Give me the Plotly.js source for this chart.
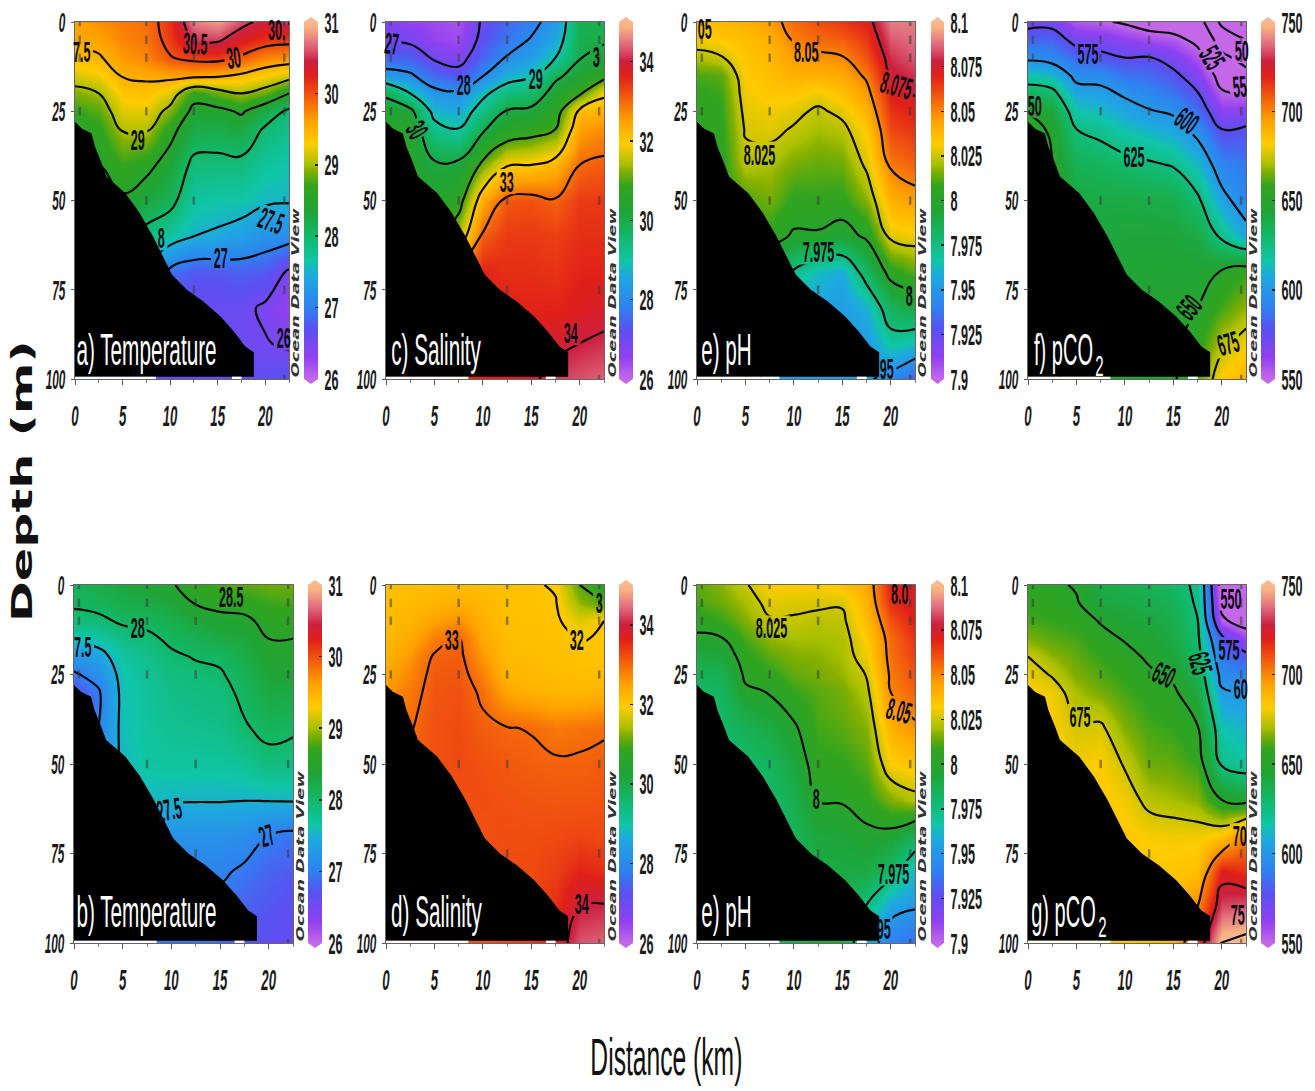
<!DOCTYPE html>
<html><head><meta charset="utf-8">
<script src="https://cdn.plot.ly/plotly-3.0.1.min.js"></script>
<style>html,body{margin:0;padding:0;background:#fff}#plot{width:1315px;height:1091px}</style>
</head><body><div id="plot"></div>
<script>
// ---------- grid ----------
const distanceKm=[0,2.5,5,7.5,10,12.5,15,17.5,20,22.5];
const depthM=[0,5,10,15,20,25,30,40,50,60,70,80,90,100];
// each inner list is one distance column, read from top (0 m) to bottom (100 m)
const tempUpper=[
[29.6,29.57,29.4,29.15,28.9,28.7,28.55,28.5,28.4,28.2,27.9,27.5,27,26.8],
[29.7,29.6,29.47,29.25,29,28.8,28.65,28.5,28.4,28.2,27.9,27.5,27,26.8],
[29.8,29.75,29.65,29.52,29.35,29.2,29.03,28.7,28.45,28.1,27.7,27.3,26.9,26.7],
[29.85,29.82,29.75,29.55,29.4,29.22,29.05,28.6,28.3,27.85,27.4,27,26.7,26.6],
[30.15,30.1,29.98,29.6,29.2,28.9,28.62,28.35,28.12,27.7,26.9,26.58,26.56,26.6],
[30.75,30.5,30.1,29.6,28.65,28.4,28.25,27.9,27.7,27.5,26.75,26.58,26.56,26.6],
[30.85,30.55,30.12,29.55,28.85,28.4,28.2,27.9,27.65,27.45,26.75,26.58,26.56,26.6],
[30.6,30.3,29.95,29.45,29,28.55,28.3,27.9,27.65,27.35,26.8,26.58,26.56,26.6],
[30.4,30.15,29.75,29.3,28.85,28.25,27.95,27.7,27.55,27.2,26.75,26.45,26.52,26.65],
[30.55,30.1,29.7,29.15,28.5,27.92,27.8,27.65,27.53,27.15,26.45,26.25,26.45,26.7]];
const tempLower=[
[28.1,28.05,27.9,27.6,27.25,26.95,26.7,26.6,26.6,26.6,26.6,26.6,26.6,26.6],
[28.2,28.1,27.93,27.65,27.35,27.15,26.95,27,27.2,27.2,27,27,26.9,26.9],
[28.3,28.2,28.05,27.85,27.7,27.62,27.6,27.6,27.55,27.52,27.3,27,26.9,26.9],
[28.35,28.25,28.08,27.93,27.8,27.75,27.72,27.7,27.68,27.55,27.3,27,26.9,26.9],
[28.47,28.33,28.18,28.06,27.95,27.87,27.82,27.78,27.7,27.53,27.2,27.02,26.9,26.9],
[28.65,28.52,28.3,28.15,28.02,27.93,27.87,27.8,27.7,27.52,27.2,27.02,26.9,26.9],
[28.75,28.6,28.4,28.25,28.05,27.97,27.9,27.82,27.7,27.52,27.2,27.05,26.9,26.85],
[28.8,28.63,28.43,28.3,28.2,28.12,28.07,27.97,27.75,27.51,27.15,26.95,26.8,26.75],
[28.85,28.72,28.6,28.5,28.42,28.35,28.28,28.08,27.9,27.52,27,26.82,26.72,26.65],
[28.85,28.75,28.62,28.5,28.42,28.35,28.25,28.05,27.85,27.53,26.92,26.75,26.65,26.6]];
const salUpper=[
[26.7,26.9,27.5,28.3,29.9,30.3,30.5,30.5,30.5,30.5,31,32,33,33.5],
[26.5,26.85,27.45,28.1,29,30.2,30.5,30.5,30.5,31,32,33,33.5,33.5],
[26.4,26.5,26.9,27.55,28.2,28.75,29.25,30.1,30.4,31,32,33,33.5,33.5],
[26.3,26.4,26.7,27.3,28.15,28.6,29.02,30.15,30.7,31.5,33,33.5,33.5,33.5],
[27.1,27.2,27.5,27.97,28.85,29.3,29.9,31.15,32.4,33.1,33.6,33.6,33.6,33.6],
[27.5,27.7,28.05,28.7,29.4,30.05,30.5,31.95,33.15,33.4,33.5,33.6,33.6,33.6],
[27.8,28.05,28.4,28.9,29.55,30.15,30.7,32,33.2,33.4,33.5,33.6,33.8,33.9],
[28.3,28.55,29,29.85,30.3,30.65,31,32.25,33.05,33.35,33.45,33.6,33.85,34.2],
[29.9,29.95,29.98,30.3,30.9,32.15,32.5,33,33.4,33.5,33.6,33.7,34,34.3],
[29.85,29.95,30.15,30.75,31.9,32.3,32.7,33.1,33.4,33.5,33.6,33.8,34.1,34.4]];
const salLower=[
[32.12,32.12,32.15,32.2,32.3,32.45,32.6,32.9,33.1,33.1,33.1,33.1,33.1,33.1],
[32.12,32.15,32.25,32.4,32.6,32.75,32.85,32.97,33.1,33.1,33.1,33.1,33.1,33.1],
[32.12,32.25,32.5,32.8,33.05,33.12,33.15,33.2,33.2,33.2,33.2,33.2,33.2,33.2],
[32.15,32.35,32.68,33.03,33.1,33.15,33.2,33.25,33.25,33.2,33.2,33.2,33.2,33.2],
[32.12,32.2,32.3,32.42,32.6,32.78,32.93,33.08,33.2,33.22,33.2,33.2,33.2,33.2],
[32.1,32.1,32.12,32.14,32.18,32.25,32.45,33.02,33.13,33.2,33.23,33.25,33.25,33.3],
[32.06,32.08,32.1,32.12,32.14,32.18,32.3,32.98,33.08,33.17,33.23,33.25,33.3,33.4],
[31.95,32.03,32.07,32.1,32.12,32.15,32.22,32.85,33.05,33.15,33.25,33.35,33.5,33.7],
[31,31.3,31.75,31.98,32.08,32.12,32.2,32.9,33.05,33.15,33.3,33.6,34,34.3],
[30.7,31,32,32.03,32.08,32.14,32.3,32.95,33.1,33.18,33.25,33.5,34.05,34.4]];
const phUpper=[
[8.036,8.03,8.021,8.01,8.007,8.006,8.005,8.004,8.004,8.004,8.003,8.003,8.003,8.003],
[8.038,8.033,8.024,8.012,8.009,8.007,8.006,8.005,8.005,8.004,8.003,8.003,8.003,8.003],
[8.04,8.036,8.034,8.032,8.03,8.028,8.026,8.022,8.01,8.005,8.002,8.002,8.002,8.002],
[8.045,8.04,8.038,8.036,8.034,8.03,8.028,8.02,8.015,8.005,7.99,7.97,7.96,7.96],
[8.055,8.051,8.045,8.04,8.034,8.028,8.024,8.015,8.006,7.9985,7.973,7.955,7.952,7.952],
[8.06,8.055,8.047,8.04,8.03,8.023,8.02,8.013,8.007,7.9985,7.963,7.955,7.952,7.952],
[8.065,8.057,8.049,8.042,8.036,8.028,8.022,8.014,8.006,7.995,7.958,7.952,7.952,7.952],
[8.07,8.065,8.06,8.052,8.046,8.04,8.034,8.027,8.017,8.002,7.983,7.96,7.952,7.952],
[8.09,8.085,8.08,8.076,8.07,8.066,8.062,8.052,8.04,8.028,8.005,7.985,7.968,7.945],
[8.09,8.088,8.085,8.08,8.076,8.07,8.066,8.057,8.045,8.03,8.012,7.99,7.965,7.93]];
const phLower=[
[8.012,8.01,8.004,7.998,7.99,7.985,7.98,7.98,7.98,7.98,7.98,7.98,7.98,7.98],
[8.017,8.014,8.008,7.999,7.992,7.985,7.982,7.98,7.98,7.98,7.98,7.98,7.98,7.98],
[8.024,8.02,8.016,8.01,8.005,8.002,7.998,7.985,7.98,7.98,7.98,7.98,7.98,7.98],
[8.032,8.028,8.024,8.018,8.012,8.006,8.0005,7.99,7.983,7.98,7.98,7.98,7.98,7.98],
[8.032,8.027,8.024,8.02,8.016,8.013,8.008,7.998,7.992,7.987,7.985,7.985,7.985,7.985],
[8.031,8.027,8.022,8.02,8.017,8.015,8.012,8.01,8.006,8.0005,7.992,7.99,7.99,7.99],
[8.035,8.026,8.023,8.021,8.02,8.018,8.015,8.012,8.007,8.001,7.993,7.99,7.988,7.988],
[8.042,8.04,8.037,8.033,8.03,8.0255,8.022,8.017,8.012,8.006,7.997,7.99,7.974,7.96],
[8.07,8.067,8.06,8.055,8.054,8.052,8.05,8.04,8.032,8.016,7.996,7.98,7.955,7.94],
[8.075,8.072,8.07,8.066,8.063,8.06,8.057,8.048,8.035,8.022,7.985,7.962,7.951,7.935]];
const co2Upper=[
[570,583,597,616,634,649,655,655,655,655,655,655,655,655],
[570,583,594,612,630,643,648,650.5,652,652,652,652,652,652],
[555,570,584,596,606,616,625,636,640,642,643,645,645,645],
[552,568,579,595,604,612,621,633,640,642,643,644,645,645],
[548,563,575,587,598,606,614,630,640,643,644,645,645,645],
[542,558,576,585,593,601,610,627,639,643,645,646,646,646],
[540,555,568,579,587,598,606,624,638,643,645,647,648,648],
[536,546,556,566,576,585,595,612,628,640,645,650,655,662],
[495,515,530,543,552,563,575,592,605,622,651,660,672,683],
[480,500,518,531,550,565,577,588,592,606,658,668,680,690]];
const co2Lower=[
[655,657,660,666,675,680,682,682,682,682,682,682,682,682],
[652,655,658,662,668,674,680,682,682,682,682,682,682,682],
[649,651,656,660,663,666,670,676,680,682,682,682,682,682],
[640,642,649,654,658,661,665,677,682,684,684,684,684,684],
[637,640,644,649,654,657,660,666,674,680,684,683,683,683],
[635,638,642,645,648,652,655,660,664,672,681,684,684,685],
[631,635,638,640,643,647.5,652,658,663,670,680,684,686,688],
[622,623,625.5,628,631,636,641,651,658,667,680,686,700,715],
[540,545,553,578,588,595,602,615,623,650,684,720,733,752],
[530,535,542,560,580,592,600,610,618,645,702,716,735,755]];
// ---------- sea floor and stations ----------
const bottomX=[-0.2,0.7,1.75,2.1,2.8,3.3,5.3,6.8,8.2,9.3,10.2,11.75,13.5,15.3,16.7,17.9,18.8,18.8,-0.2];
const bottomD=[27.4,29.8,31.2,34.9,39.6,43.3,48,53.5,60,66,70.8,75,78.3,82.5,86.7,90.9,92.5,99.4,99.4];
const stationX=[0.5,0.5,0.5,0.5,7.5,7.5,7.5,7.5,7.5,12.5,12.5,12.5,12.5,12.5,12.5,22,22,22,22,22,22,22];
const stationD=[0,5,10,25,0,5,10,25,50,0,5,10,25,50,75,0,5,10,25,50,75,100];
const stripX=[-0.2,8.5,null,16.5,17.5];
const stripD=[99.7,99.7,null,99.7,99.7];
// ---------- ticks ----------
const xTicks=[0,5,10,15,20];
const yTicks=[0,25,50,75,100];
const tempTicks=[26,27,28,29,30,31];
const salTicks=[26,28,30,32,34];
const phTicks=[7.9,7.925,7.95,7.975,8,8.025,8.05,8.075,8.1];
const phTickText=['7.9','7.925','7.95','7.975','8','8.025','8.05','8.075','8.1'];
const co2Ticks=[550,600,650,700,750];
// ---------- contour labels: distance, depth, text, angle ----------
const lblA=[[12.6,6,'30.5',3],[16.7,10,'30',-8],[21.2,2,'30.',0],[0.7,8.3,'7.5',0],[6.6,33,'29',0],[9.1,60.5,'8',0],[20.6,55.5,'27.5',20],[15.3,66,'27',0],[21.9,88.5,'26',0]];
const lblB=[[16.1,3.3,'28.5',0],[6.5,12,'28',0],[0.9,17.2,'7.5',0],[9.8,62.8,'27.5',-10],[19.8,70,'27',-18]];
const lblC=[[0.6,6,'27',5],[8,17.6,'28',0],[15.4,15.8,'29',0],[3.2,30,'30',60],[12.4,44.7,'33',0],[21.7,9.7,'3',0],[19.1,87,'34',0]];
const lblD=[[6.8,15.3,'33',0],[19.7,15.3,'32',0],[22,5,'3',0],[20.2,89,'34',0]];
const lblE=[[0.8,1.8,'05',0],[11.3,8.3,'8.05',0],[6.5,37,'8.025',0],[20.6,17.7,'8.075',15],[12.5,64.4,'7.975',0],[21.9,76.5,'8',0],[19.6,97,'95',0]];
const lblE2=[[21,2.3,'8.0',0],[7.7,12,'8.025',0],[20.8,35,'8.05',15],[12.3,59.5,'8',0],[20.3,80.5,'7.975',0],[19.2,96,'95',0]];
const lblF=[[6.2,8.8,'575',0],[16.4,27.5,'600',35],[10.9,37.8,'625',0],[0.7,23.3,'50',0],[16.6,80,'650',-50],[20.6,90,'675',-15],[19,10,'525',60],[21.8,18,'55',-5],[22,8,'50',0]];
const lblG=[[20.9,3.7,'550',0],[20.7,18,'575',0],[17.8,22,'625',75],[21.9,29,'60',0],[14,25,'650',25],[5.4,36.7,'675',0],[21.8,70,'70',0],[21.6,92,'75',0]];

const W=1315,H=1091;
const scale=[[0,'#c468e8'],[.06,'#9040f0'],[.137,'#5a50f0'],[.2,'#2f80f0'],[.287,'#1ea8e0'],[.33,'#10c6a8'],[.365,'#12be88'],[.4,'#12b868'],[.47,'#1fa436'],[.54,'#32a41e'],[.585,'#88b000'],[.6,'#a8c000'],[.66,'#ffcc00'],[.725,'#ffa000'],[.8,'#f05010'],[.847,'#e02018'],[.89,'#cc2040'],[.94,'#e07080'],[.985,'#f8b080'],[1,'#f8b890']];

const T={min:26,max:31,ticks:tempTicks,text:tempTicks.map(String),c:{start:26.5,end:31,size:.5}};
const S={min:26,max:35,ticks:salTicks,text:salTicks.map(String),c:{start:27,end:35,size:1}};
const P={min:7.9,max:8.1,ticks:phTicks,text:phTickText,c:{start:7.925,end:8.1,size:.025}};
const C={min:550,max:750,ticks:co2Ticks,text:co2Ticks.map(String),c:{start:500,end:750,size:25}};

const panels=[
{z:tempUpper,v:T,l:75,r:289,t:22,b:379,cb:304,odv:295,lab:lblA,name:'a) Temperature',nx:74},
{z:salUpper,v:S,l:386,r:604,t:22,b:379,cb:619,odv:612,lab:lblC,name:'c) Salinity',nx:389},
{z:phUpper,v:P,l:697,r:915,t:22,b:379,cb:931,odv:922,lab:lblE,name:'e) pH',nx:699},
{z:co2Upper,v:C,l:1028,r:1246,t:22,b:379,cb:1261,odv:1253,lab:lblF,name:'f) pCO',nx:1032,sub:1},
{z:tempLower,v:T,l:74,r:293,t:585,b:943,cb:308,odv:300,lab:lblB,name:'b) Temperature',nx:74},
{z:salLower,v:S,l:386,r:604,t:585,b:943,cb:619,odv:612,lab:lblD,name:'d) Salinity',nx:389},
{z:phLower,v:P,l:697,r:915,t:585,b:943,cb:931,odv:922,lab:lblE2,name:'e) pH',nx:699},
{z:co2Lower,v:C,l:1028,r:1246,t:585,b:943,cb:1261,odv:1253,lab:lblG,name:'g) pCO',nx:1029,sub:1}];

const cv=document.createElement('canvas').getContext('2d');
function textW(s,size,fam,bold){cv.font=(bold?'bold ':'')+size+'px "'+fam+'"';return cv.measureText(s).width;}
const transpose=m=>m[0].map((_,r)=>m.map(col=>col[r]));

const traces=[],annotations=[],shapes=[],squeeze=[];
const layout={width:W,height:H,margin:{l:0,r:0,t:0,b:0,autoexpand:false},paper_bgcolor:'#fff',plot_bgcolor:'#fff',showlegend:false,annotations,shapes};
const px=x=>x/W, py=y=>1-y/H;
function addAnn(a,target){annotations.push(a);squeeze.push(target);}
const LF='Liberation Sans';
const LABEL_SIZE=30, LABEL_SQ=.42;

panels.forEach((p,i)=>{
  const n=i===0?'':String(i+1), xa='x'+n, ya='y'+n, z=transpose(p.z), v=p.v, cbw=p.cb===931?13:14;
  layout['xaxis'+n]={domain:[px(p.l),px(p.r)],range:[0,22.5],anchor:ya,tickmode:'array',tickvals:xTicks,ticks:'outside',ticklen:5,tickcolor:'#555',
    minor:{tickmode:'array',tickvals:[2.5,7.5,12.5,17.5,22.5],ticks:'outside',ticklen:3,tickcolor:'#777'},
    showline:true,mirror:true,linecolor:'#666',linewidth:1,showgrid:false,zeroline:false,ticklabelstandoff:5,
    tickfont:{family:LF,size:30,color:'#1a1a1a',style:'italic',weight:700}};
  layout['yaxis'+n]={domain:[py(p.b),py(p.t)],range:[100,0],anchor:xa,tickmode:'array',tickvals:yTicks,ticks:'outside',ticklen:3,tickcolor:'#555',
    showline:true,mirror:true,linecolor:'#666',linewidth:1,showgrid:false,zeroline:false,
    tickfont:{family:LF,size:28,color:'#1a1a1a',style:'italic',weight:700}};
  traces.push({type:'heatmap',xaxis:xa,yaxis:ya,x:distanceKm,y:depthM,z,zmin:v.min,zmax:v.max,zauto:false,zsmooth:'best',colorscale:scale,hoverinfo:'skip',
    colorbar:{x:px(p.cb),xanchor:'left',xpad:0,y:py(p.b),yanchor:'bottom',ypad:0,thickness:cbw,thicknessmode:'pixels',len:p.b-p.t,lenmode:'pixels',outlinewidth:0,
      tickmode:'array',tickvals:v.ticks,ticktext:v.text,ticks:'inside',ticklen:3,tickcolor:'#222',tickwidth:1.5,
      tickfont:{family:LF,size:30,color:'#1a1a1a',weight:700}}});
  traces.push({type:'contour',xaxis:xa,yaxis:ya,x:distanceKm,y:depthM,z,autocontour:false,contours:{coloring:'none',start:v.c.start,end:v.c.end,size:v.c.size},
    line:{color:'#0a0a0a',width:2.2,smoothing:1.3},showscale:false,hoverinfo:'skip'});
  traces.push({type:'scatter',mode:'markers',xaxis:xa,yaxis:ya,x:stationX,y:stationD,marker:{symbol:'line-ns',size:6,line:{color:'rgba(60,60,60,.55)',width:2.5}},hoverinfo:'skip',cliponaxis:true});
  traces.push({type:'scatter',mode:'lines',xaxis:xa,yaxis:ya,x:bottomX,y:bottomD,fill:'toself',fillcolor:'#000',line:{color:'#000',width:0},hoverinfo:'skip',cliponaxis:false});
  traces.push({type:'scatter',mode:'lines',xaxis:xa,yaxis:ya,x:stripX,y:stripD,line:{color:'#fff',width:2.5},hoverinfo:'skip',cliponaxis:false,connectgaps:false});

  // colour-bar end caps
  const c0=p.cb,c1=p.cb+cbw,m=(c0+c1)/2;
  shapes.push({type:'path',xref:'paper',yref:'paper',path:`M${px(c0)},${py(p.t)} L${px(m)},${py(p.t-5)} L${px(c1)},${py(p.t)} Z`,fillcolor:scale[scale.length-1][1],line:{width:0}});
  shapes.push({type:'path',xref:'paper',yref:'paper',path:`M${px(c0)},${py(p.b)} L${px(m)},${py(p.b+5)} L${px(c1)},${py(p.b)} Z`,fillcolor:scale[0][1],line:{width:0}});

  p.lab.forEach(L=>{
    const tw=textW(L[2],LABEL_SIZE,LF,true)*LABEL_SQ;
    addAnn({xref:xa,yref:ya,x:L[0],y:L[1],text:L[2],showarrow:false,textangle:L[3],font:{family:LF,size:LABEL_SIZE,color:'#0c0c14',weight:700},xanchor:'center',yanchor:'middle',borderpad:0},tw);
  });
  const py0=(p.t<100?350:911);
  const nw=textW(p.name,44,LF)*(p.sub?.455:.47);
  addAnn({xref:'paper',yref:'paper',x:px(p.nx),y:py(py0),text:p.name,showarrow:false,font:{family:LF,size:44,color:'#fff'},xanchor:'left',yanchor:'middle',width:Math.ceil(nw)+2,borderpad:0},nw);
  if(p.sub){const sw=textW('2',30,LF)*.5;
    addAnn({xref:'paper',yref:'paper',x:px(p.nx+nw+2),y:py(py0+15),text:'2',showarrow:false,font:{family:LF,size:30,color:'#fff'},xanchor:'left',yanchor:'middle',width:Math.ceil(sw)+2,borderpad:0},sw);}
  const odvTop=p.t+186, odvBot=p.b-2;
  addAnn({xref:'paper',yref:'paper',x:px(p.odv),y:py((odvTop+odvBot)/2),text:'Ocean Data View',showarrow:false,textangle:-90,font:{family:'DejaVu Sans',size:10,color:'#333',style:'italic',weight:700},xanchor:'center',yanchor:'middle',borderpad:0},odvBot-odvTop);
});
addAnn({xref:'paper',yref:'paper',x:px(666),y:py(1057),text:'Distance (km)',showarrow:false,font:{family:LF,size:52,color:'#111'},xanchor:'center',yanchor:'middle',borderpad:0},152);
addAnn({xref:'paper',yref:'paper',x:px(22),y:py(481),text:'Depth (m)',showarrow:false,textangle:-90,font:{family:'DejaVu Sans',size:29,color:'#111',weight:700},xanchor:'center',yanchor:'middle',borderpad:0},282);

Plotly.newPlot('plot',traces,layout,{staticPlot:true,displayModeBar:false}).then(gd=>{
  const NS='http://www.w3.org/2000/svg';
  const fit=(el,w)=>{el.setAttribute('textLength',w);el.setAttribute('lengthAdjust','spacingAndGlyphs');};
  gd.querySelectorAll('.xaxislayer-above text').forEach(t=>fit(t,t.getComputedTextLength()*.44));
  gd.querySelectorAll('.yaxislayer-above text').forEach(t=>fit(t,t.getComputedTextLength()*.42));
  gd.querySelectorAll('.cbaxis text').forEach(t=>fit(t,t.getComputedTextLength()*.42));
  gd.querySelectorAll('.annotation').forEach(a=>{
    const k=+a.getAttribute('data-index'),t=a.querySelector('text');
    if(t&&squeeze[k]) fit(t,squeeze[k]);
  });
  // break the contour lines under their labels
  panels.forEach((p,i)=>{
    const n=i===0?'':String(i+1),sub='.subplot.x'+n+'y'+n,layer=gd.querySelector(sub+' .contourlayer');
    if(!layer) return;
    const w=p.r-p.l,h=p.b-p.t,mask=document.createElementNS(NS,'mask'),id='gap'+i;
    mask.setAttribute('id',id);mask.setAttribute('maskUnits','userSpaceOnUse');
    mask.setAttribute('x',-20);mask.setAttribute('y',-20);mask.setAttribute('width',w+40);mask.setAttribute('height',h+40);
    const rect=(x,y,rw,rh,fill,tr)=>{const r=document.createElementNS(NS,'rect');r.setAttribute('x',x);r.setAttribute('y',y);r.setAttribute('width',rw);r.setAttribute('height',rh);r.setAttribute('fill',fill);if(tr)r.setAttribute('transform',tr);mask.appendChild(r);};
    rect(-20,-20,w+40,h+40,'#fff');
    p.lab.forEach(L=>{
      const cx=L[0]/22.5*w,cy=L[1]/100*h,tw=textW(L[2],LABEL_SIZE,LF,true)*LABEL_SQ+5,th=25;
      rect(cx-tw/2,cy-th/2,tw,th,'#000',`rotate(${L[3]} ${cx} ${cy})`);
    });
    layer.appendChild(mask);
    layer.setAttribute('mask','url(#'+id+')');
  });
});
</script></body></html>
